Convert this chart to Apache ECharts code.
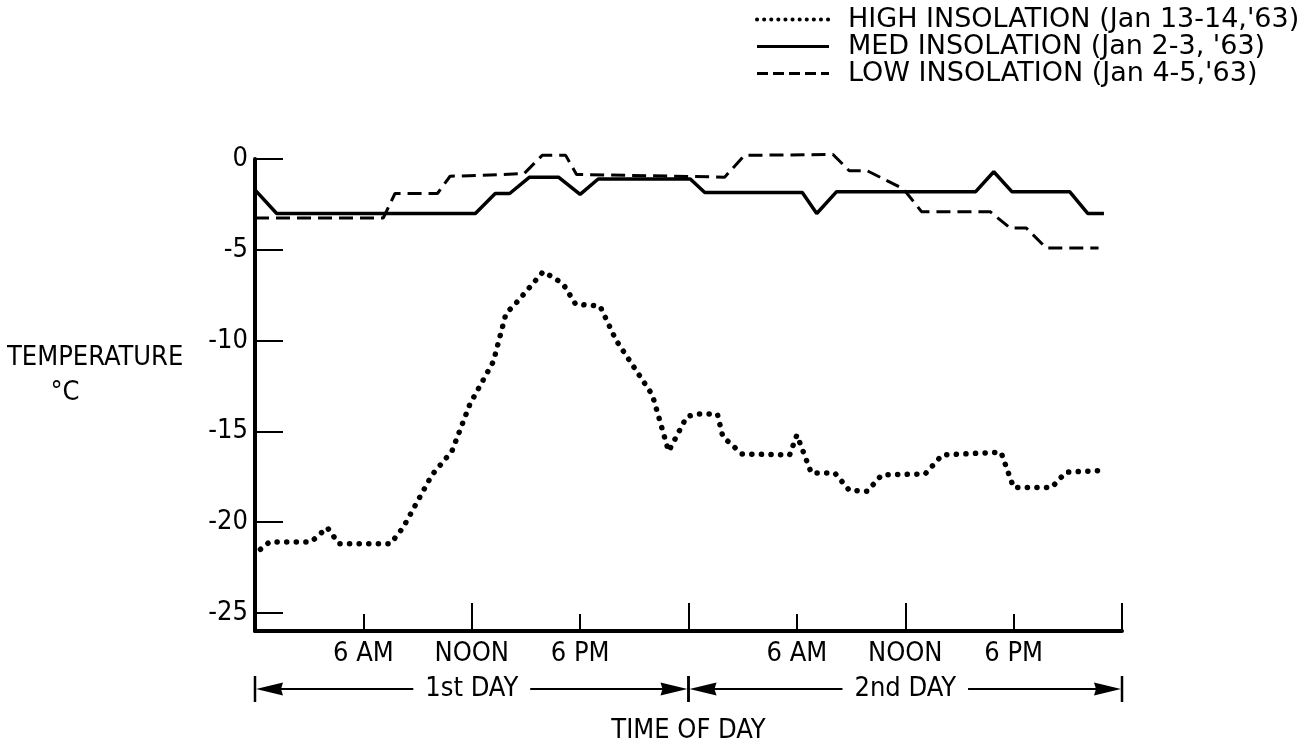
<!DOCTYPE html>
<html><head><meta charset="utf-8">
<script src="https://cdn.jsdelivr.net/npm/echarts@6/dist/echarts.min.js"></script>
<style>html,body{margin:0;padding:0;background:#fff}#c{width:1315px;height:747px}</style>
</head><body><div id="c"></div>
<script>
const FONT = '"DejaVu Sans Condensed","Liberation Sans Narrow","DejaVu Sans",sans-serif';
const LEGEND_FONT = '"DejaVu Sans","Liberation Sans",sans-serif';
const seriesNames = ["HIGH INSOLATION (Jan 13-14,'63)", "MED INSOLATION (Jan 2-3, '63)", "LOW INSOLATION (Jan 4-5,'63)"];
// [hour, temperature °C]
const highData = [[0.3,-21.5],[0.8,-21.1],[3.1,-21.1],[4.0,-20.3],[4.65,-21.2],[7.5,-21.2],[8.2,-20.3],[9.8,-17.4],[10.9,-16.1],[11.9,-13.5],[13.2,-11.15],[13.9,-8.5],[14.4,-8.0],[15.96,-6.2],[16.65,-6.6],[17.1,-6.95],[17.75,-8.0],[19.1,-8.1],[20.0,-10.0],[22.0,-13.0],[22.9,-16.1],[23.9,-14.2],[24.4,-14.05],[25.6,-14.05],[25.9,-15.3],[26.97,-16.25],[29.6,-16.3],[30.0,-15.2],[30.8,-17.3],[32.1,-17.3],[32.9,-18.25],[33.9,-18.3],[34.7,-17.4],[37.1,-17.35],[38.05,-16.3],[41.3,-16.15],[42.0,-18.1],[44.1,-18.1],[44.9,-17.25],[47.1,-17.15]];
const medData = [[0,-1.7],[1.2,-3.0],[12.2,-3.0],[13.3,-1.9],[14.1,-1.9],[15.2,-1.0],[16.8,-1.0],[18.0,-1.95],[19.0,-1.1],[24.1,-1.1],[24.9,-1.85],[30.3,-1.85],[31.1,-3.0],[32.2,-1.8],[39.9,-1.8],[40.9,-0.7],[41.9,-1.8],[45.1,-1.8],[46.1,-3.0],[47.0,-3.0]];
const lowData = [[0,-3.25],[7.1,-3.25],[7.75,-1.9],[10.1,-1.9],[10.8,-0.95],[12.6,-0.9],[14.9,-0.8],[15.9,0.2],[17.2,0.2],[17.8,-0.85],[26.0,-1.0],[27.1,0.2],[32.0,0.25],[32.9,-0.65],[33.9,-0.65],[35.9,-1.65],[36.9,-2.9],[40.7,-2.9],[41.8,-3.8],[42.7,-3.8],[43.8,-4.9],[46.7,-4.9]];
const xTickLabels = {6:'6 AM',12:'NOON',18:'6 PM',30:'6 AM',36:'NOON',42:'6 PM'};
const dayLabels = ['1st DAY','2nd DAY'];
const xAxisTitle = 'TIME OF DAY';
const yAxisTitle = ['TEMPERATURE','\u00B0C'];

const chart = echarts.init(document.getElementById('c'), null, {renderer:'canvas'});
const axisLine = {show:true, onZero:false, lineStyle:{color:'#000', width:4}};
const option = {
  animation:false,
  backgroundColor:'#fff',
  textStyle:{fontFamily:FONT, color:'#000'},
  grid:{left:255, right:193, top:159, bottom:116, containLabel:false},
  legend:{
    orient:'vertical', left:750, top:1, itemWidth:72, itemHeight:1, itemGap:0,
    itemStyle:{opacity:0, color:'#000'},
    data:[
      {name:seriesNames[0], lineStyle:{color:'#000', width:4, type:[0.1,7], cap:'round'}},
      {name:seriesNames[1], lineStyle:{color:'#000', width:3}},
      {name:seriesNames[2], lineStyle:{color:'#000', width:3, type:[11,5]}}
    ],
    textStyle:{fontFamily:LEGEND_FONT, fontSize:27, color:'#000', lineHeight:26.5, padding:[0,0,0,14]},
    selectedMode:false
  },
  xAxis:[
    {type:'value', min:0, max:48, interval:6, position:'bottom',
     axisLine:axisLine,
     axisTick:{show:true, inside:true, length:17, lineStyle:{color:'#000', width:2}},
     axisLabel:{fontFamily:FONT, fontSize:27, color:'#000', margin:9,
       formatter:v=>xTickLabels[v]||''},
     splitLine:{show:false}},
    {type:'value', min:0, max:48, interval:12, position:'bottom',
     axisLine:{show:false, onZero:false},
     axisTick:{show:true, inside:true, length:28, lineStyle:{color:'#000', width:2}},
     axisLabel:{show:false}, splitLine:{show:false}}
  ],
  yAxis:{type:'value', min:-26, max:0, splitNumber:5,
    axisLine:axisLine,
    axisTick:{show:true, inside:true, length:28, lineStyle:{color:'#000', width:2}},
    axisLabel:{fontFamily:FONT, fontSize:27, color:'#000', margin:7, showMinLabel:false,
      formatter:v=>v===-26?'':String(v)},
    splitLine:{show:false}},
  series:[
    {name:seriesNames[0], type:'line', data:highData, symbol:'none', clip:false,
     itemStyle:{color:'#000'},
     lineStyle:{color:'#000', width:5.5, type:[0.1,9.5], cap:'round'}},
    {name:seriesNames[1], type:'line', data:medData, symbol:'none', clip:false,
     itemStyle:{color:'#000'},
     lineStyle:{color:'#000', width:3.5}},
    {name:seriesNames[2], type:'line', data:lowData, symbol:'none', clip:false,
     itemStyle:{color:'#000'},
     lineStyle:{color:'#000', width:3, type:[14,7]}}
  ]
};
chart.setOption(option);

// annotations positioned from the axes
const px = h => chart.convertToPixel({xAxisIndex:0}, h);
const axisY = chart.convertToPixel({yAxisIndex:0}, -26);
const ctx = document.createElement('canvas').getContext('2d');
const fs = 27;
ctx.font = fs + 'px ' + FONT;
const rowY = axisY + 58;
const g = [];
const arrowLen = 28, arrowHalf = 6.5, gap = 12;
for (let d = 0; d < 2; d++) {
  const x0 = px(24*d), x1 = px(24*d+24), xm = (x0+x1)/2;
  const tw = ctx.measureText(dayLabels[d]).width;
  g.push({type:'line', shape:{x1:x0, y1:rowY-13, x2:x0, y2:rowY+13}, style:{stroke:'#000', lineWidth:2.5}});
  g.push({type:'line', shape:{x1:x1, y1:rowY-13, x2:x1, y2:rowY+13}, style:{stroke:'#000', lineWidth:2.5}});
  g.push({type:'polygon', shape:{points:[[x0+1,rowY],[x0+arrowLen,rowY-arrowHalf],[x0+arrowLen-2,rowY],[x0+arrowLen,rowY+arrowHalf]]}, style:{fill:'#000'}});
  g.push({type:'polygon', shape:{points:[[x1-1,rowY],[x1-arrowLen,rowY-arrowHalf],[x1-arrowLen+2,rowY],[x1-arrowLen,rowY+arrowHalf]]}, style:{fill:'#000'}});
  g.push({type:'line', shape:{x1:x0+arrowLen-4, y1:rowY, x2:xm-tw/2-gap, y2:rowY}, style:{stroke:'#000', lineWidth:2}});
  g.push({type:'line', shape:{x1:xm+tw/2+gap, y1:rowY, x2:x1-arrowLen+4, y2:rowY}, style:{stroke:'#000', lineWidth:2}});
  g.push({type:'text', x:xm, y:rowY, style:{text:dayLabels[d], font:fs+'px '+FONT, fill:'#000', align:'center', verticalAlign:'middle'}});
}
g.push({type:'text', x:px(24), y:axisY+100, style:{text:xAxisTitle, font:fs+'px '+FONT, fill:'#000', align:'center', verticalAlign:'middle'}});
const midY = chart.convertToPixel({yAxisIndex:0}, -10);
g.push({type:'text', x:7, y:midY+17, style:{text:yAxisTitle[0], font:fs+'px '+FONT, fill:'#000', align:'left', verticalAlign:'middle'}});
g.push({type:'text', x:65, y:midY+52, style:{text:yAxisTitle[1], font:fs+'px '+FONT, fill:'#000', align:'center', verticalAlign:'middle'}});
chart.setOption({graphic:g});
</script></body></html>
